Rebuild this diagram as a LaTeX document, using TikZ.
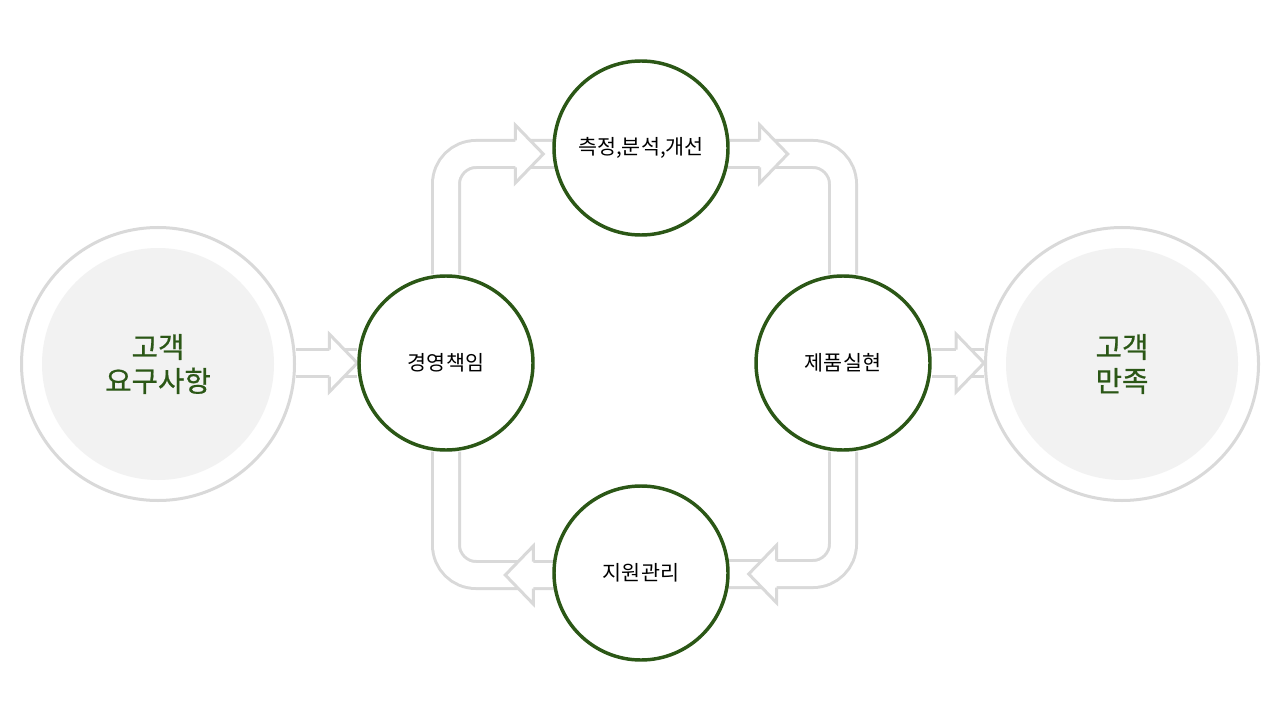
\documentclass[tikz,border=0pt]{standalone}
\usepackage{fontspec}
\setmainfont{Noto Sans CJK KR}
\newfontfamily\krmed[FakeBold=0.7]{Noto Sans CJK KR}
\usetikzlibrary{calc}
\definecolor{green3}{HTML}{2B5716}
\definecolor{gray3}{HTML}{D9D9D9}
\definecolor{gray4}{HTML}{F2F2F2}
\pgfdeclarelayer{bg}
\pgfsetlayers{bg,main}

\begin{document}
\begin{tikzpicture}[
    x=0.75pt, y=-0.75pt,
    loopnode/.style={circle,draw=green3,line width=2.6pt,fill=white,minimum size=130.5pt,
      inner sep=0pt,font=\fontsize{15.5}{17}\selectfont},
    endnode/.style={circle,draw=gray3,line width=2.25pt,fill=white,minimum size=204.75pt,
      inner sep=0pt,align=center,text=green3,font=\krmed\fontsize{21.5}{25.5}\selectfont,
      path picture={\fill[gray4] (path picture bounding box.center) circle (87pt);}},
    band/.style={draw=gray3,line width=2.25pt,double=white,double distance=18pt},
    bentband/.style={band,rounded corners=22.5pt},
    arrowhd/.pic={
      \fill[white] (0,-29) -- (28,0) -- (0,29) -- cycle;
      \draw[gray3,line width=2.25pt] (0,-13.5) -- (0,-29) -- (28,0) -- (0,29) -- (0,13.5);
    },
  ]
  \useasboundingbox (0,0) rectangle (1280,720);

  % customer in / out
  \node[endnode] (req) at (158,364) {고객\\요구사항};
  \node[endnode] (sat) at (1122,364) {고객\\만족};

  % process loop
  \node[loopnode] (mgmt) at (446,363) {경영책임};
  \node[loopnode] (meas) at (641,148) {측정,분석,개선};
  \node[loopnode] (prod) at (843,363) {제품실현};
  \node[loopnode] (supp) at (641,573) {지원관리};

  \begin{pgfonlayer}{bg}
    \draw[band] (req.east |- mgmt) -- (mgmt);
    \draw[bentband] (mgmt) |- ($(meas)+(0,6)$);
    \draw[bentband] ($(meas)+(0,6)$) -| (prod);
    \draw[bentband] (prod) |- ($(supp)+(0,1)$);
    \draw[bentband] ($(supp)+(0,2)$) -| (mgmt);
    \draw[band] (prod) -- (prod -| sat.west);

    \pic at ($(mgmt.west)+(-28,0)$) {arrowhd};
    \pic at ($(meas.west)+(-37,6)$) {arrowhd};
    \pic at ($(meas.east)+(30,6)$) {arrowhd};
    \pic[rotate=180] at ($(supp.east)+(47,1)$) {arrowhd};
    \pic[rotate=180] at ($(supp.west)+(-19,2)$) {arrowhd};
    \pic at ($(prod -| sat.west)+(-28,0)$) {arrowhd};
  \end{pgfonlayer}
\end{tikzpicture}
\end{document}
